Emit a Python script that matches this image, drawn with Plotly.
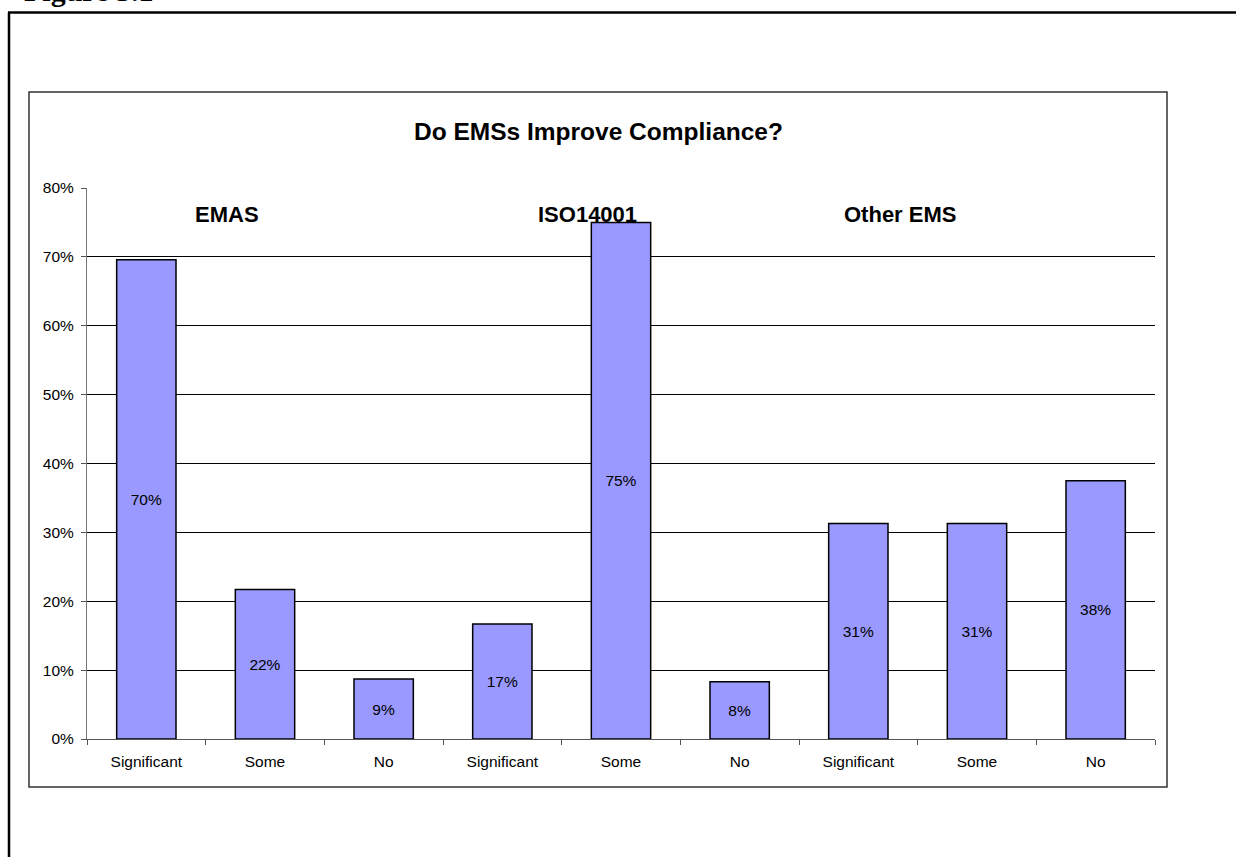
import plotly.graph_objects as go

groups = ["EMAS", "ISO14001", "Other EMS"]
answers = ["Significant", "Some", "No"]
emas = [69.6, 21.7, 8.7]
iso14001 = [16.7, 75.0, 8.3]
other_ems = [31.3, 31.3, 37.5]
y_ticks = [0, 10, 20, 30, 40, 50, 60, 70, 80]

values = emas + iso14001 + other_ems
labels = answers * len(groups)
xs = list(range(len(values)))

W, H = 1236, 857
L, R, T, B = 87, 81, 188, 118
pw, ph = W - L - R, H - T - B

def px(x):
    return (x - L) / pw

def py(y):
    return (H - B - y) / ph

FONT = "Liberation Sans, Arial"
top_line = y_ticks[-1] + 0.5 * (y_ticks[-1] - y_ticks[0]) / ph

fig = go.Figure()
fig.add_trace(go.Bar(
    x=xs, y=values, width=0.5,
    marker=dict(color="#9999FF", line=dict(color="#000000", width=1.5)),
    text=[f"{v:.0f}%" for v in values],
    textposition="inside", insidetextanchor="middle",
    textfont=dict(family=FONT, size=15.5, color="#000000"),
    textangle=0, cliponaxis=False, hoverinfo="skip",
))

annotations = [
    dict(text="<b>Figure 5.1</b>", x=px(22), y=py(9), xref="paper", yref="paper",
         xanchor="left", yanchor="bottom", showarrow=False,
         font=dict(family="Liberation Serif, Times New Roman", size=30, color="#000000")),
    dict(text="<b>Do EMSs Improve Compliance?</b>", x=px(598), y=py(131), xref="paper", yref="paper",
         xanchor="center", yanchor="middle", showarrow=False,
         font=dict(family=FONT, size=24.5, color="#000000")),
]
group_pos = [0.68, 3.72, 6.35]
for g, gx in zip(groups, group_pos):
    annotations.append(dict(text=f"<b>{g}</b>", x=gx, y=76.2, xref="x", yref="y",
                            xanchor="center", yanchor="middle", showarrow=False,
                            font=dict(family=FONT, size=22, color="#000000")))

shapes = [
    dict(type="rect", xref="paper", yref="paper", x0=px(29), x1=px(1167), y0=py(787), y1=py(92),
         line=dict(color="#333333", width=1.5), layer="below"),
    dict(type="line", xref="paper", yref="paper", x0=px(8), x1=px(1240), y0=py(12.5), y1=py(12.5),
         line=dict(color="#000000", width=2.5)),
    dict(type="line", xref="paper", yref="paper", x0=px(9), x1=px(9), y0=py(12.5), y1=py(870),
         line=dict(color="#000000", width=2.5)),
    dict(type="line", xref="paper", yref="y", x0=0, x1=1, y0=top_line, y1=top_line,
         line=dict(color="#000000", width=1), layer="above"),
]

fig.update_layout(
    width=W, height=H, margin=dict(l=L, r=R, t=T, b=B),
    paper_bgcolor="white", plot_bgcolor="white", showlegend=False,
    annotations=annotations, shapes=shapes, bargap=0.5,
    font=dict(family=FONT, size=15.5, color="#000000"),
)
fig.update_xaxes(
    range=[-0.5, len(values) - 0.5], tickmode="array", tickvals=xs, ticktext=labels,
    ticks="", showgrid=False, zeroline=False,
    showline=True, linecolor="#555555", linewidth=1,
    tickfont=dict(family=FONT, size=15.5, color="#000000"),
    minor=dict(tickmode="array", tickvals=[i - 0.5 for i in range(len(values) + 1)],
               ticks="outside", ticklen=5, tickcolor="#555555", showgrid=False),
    ticklabelstandoff=8,
)
fig.update_yaxes(
    range=[0, 80], tickmode="array", tickvals=y_ticks, ticktext=[f"{t}%" for t in y_ticks],
    ticks="outside", ticklen=5, tickcolor="#555555",
    showgrid=True, gridcolor="#000000", gridwidth=1, zeroline=False,
    showline=True, linecolor="#777777", linewidth=1,
    tickfont=dict(family=FONT, size=15.5, color="#000000"),
    ticklabelstandoff=4,
)
fig.write_html("out.html")
